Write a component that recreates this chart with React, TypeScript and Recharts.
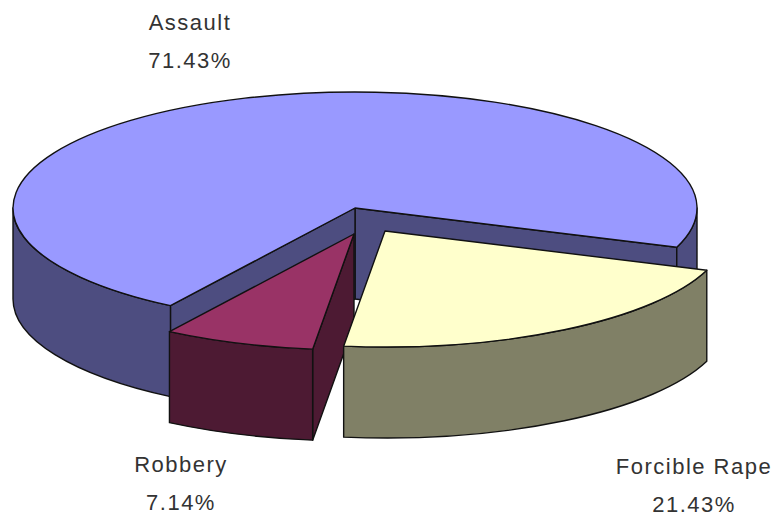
import { Pie, PieChart } from "recharts";

const crimes = ["Assault", "Robbery", "Forcible Rape"];
const counts = [10, 1, 3];
const topColors = ["#9999ff", "#993366", "#ffffcc"];
const sideColors = ["#4d4d80", "#4d1a33", "#808066"];

// Excel style explosion, each slice moved by hand
const explode = [
  [0, 0],
  [-1, 26],
  [30, 23],
];
const labelSpots = [
  [190, 24],
  [181, 466],
  [694, 468],
];

const SQUASH = 116 / 342;
const DEPTH = 91;

const data = crimes.map((name, i) => ({
  name,
  value: counts[i],
  fill: topColors[i],
  side: sideColors[i],
  index: i,
}));

const rad = (d: number) => (d * Math.PI) / 180;

function Slice3D(props: any) {
  const { cx, cy, outerRadius, startAngle, endAngle, payload, index } = props;
  const i = payload?.index ?? index;
  const [ox, oy] = explode[i];
  const rx = outerRadius;
  const ry = outerRadius * SQUASH;
  const x0 = cx + ox;
  const y0 = cy + oy;
  const px = (a: number) => x0 + rx * Math.cos(rad(a));
  const py = (a: number) => y0 - ry * Math.sin(rad(a));

  const arc = (a: number, b: number, dy: number, back = false) => {
    const large = Math.abs(b - a) > 180 ? 1 : 0;
    return back
      ? `A${rx} ${ry} 0 ${large} 1 ${px(a)} ${py(a) + dy}`
      : `A${rx} ${ry} 0 ${large} 0 ${px(b)} ${py(b) + dy}`;
  };

  // front part of the rim lies between 180 and 360 degrees
  const rims: [number, number][] = [];
  for (const [lo, hi] of [
    [-180, 0],
    [180, 360],
    [540, 720],
  ]) {
    const a = Math.max(startAngle, lo);
    const b = Math.min(endAngle, hi);
    if (b > a) rims.push([a, b]);
  }

  const walls: number[] = [];
  if (Math.cos(rad(startAngle)) > 0) walls.push(startAngle);
  if (Math.cos(rad(endAngle)) < 0) walls.push(endAngle);

  const line = { stroke: "#111", strokeWidth: 1.4, strokeLinejoin: "round" as const };

  return (
    <g>
      {walls.map((a) => (
        <path
          key={`w${a}`}
          d={`M${x0} ${y0}L${px(a)} ${py(a)}L${px(a)} ${py(a) + DEPTH}L${x0} ${y0 + DEPTH}Z`}
          fill={payload?.side}
          {...line}
        />
      ))}
      {rims.map(([a, b]) => (
        <path
          key={`r${a}`}
          d={`M${px(a)} ${py(a)}${arc(a, b, 0)}L${px(b)} ${py(b) + DEPTH}${arc(a, b, DEPTH, true)}Z`}
          fill={payload?.side}
          {...line}
        />
      ))}
      <path
        d={`M${x0} ${y0}L${px(startAngle)} ${py(startAngle)}${arc(startAngle, endAngle, 0)}Z`}
        fill={props.fill}
        {...line}
      />
    </g>
  );
}

function SliceLabel(props: any) {
  const i = props.payload?.index ?? props.index;
  const [x, y] = labelSpots[i];
  const style = { fontFamily: "'Liberation Sans', Arial, sans-serif", fontSize: 22, fill: "#333", letterSpacing: 1.5 };
  return (
    <g>
      <text x={x} y={y} textAnchor="middle" dominantBaseline="middle" style={style}>
        {crimes[i]}
      </text>
      <text x={x} y={y + 38} textAnchor="middle" dominantBaseline="middle" style={style}>
        {`${(props.percent * 100).toFixed(2)}%`}
      </text>
    </g>
  );
}

export default function App() {
  return (
    <div style={{ position: "absolute", left: 0, top: 0, width: 777, height: 517, background: "#fff" }}>
      <PieChart width={777} height={517} margin={{ top: 0, right: 0, bottom: 0, left: 0 }}>
        <Pie
          data={data}
          dataKey="value"
          nameKey="name"
          cx={355}
          cy={208}
          innerRadius={0}
          outerRadius={342}
          startAngle={-19.8}
          endAngle={340.2}
          paddingAngle={0}
          stroke="none"
          shape={Slice3D}
          label={SliceLabel}
          labelLine={false}
          isAnimationActive={false}
        />
      </PieChart>
    </div>
  );
}
